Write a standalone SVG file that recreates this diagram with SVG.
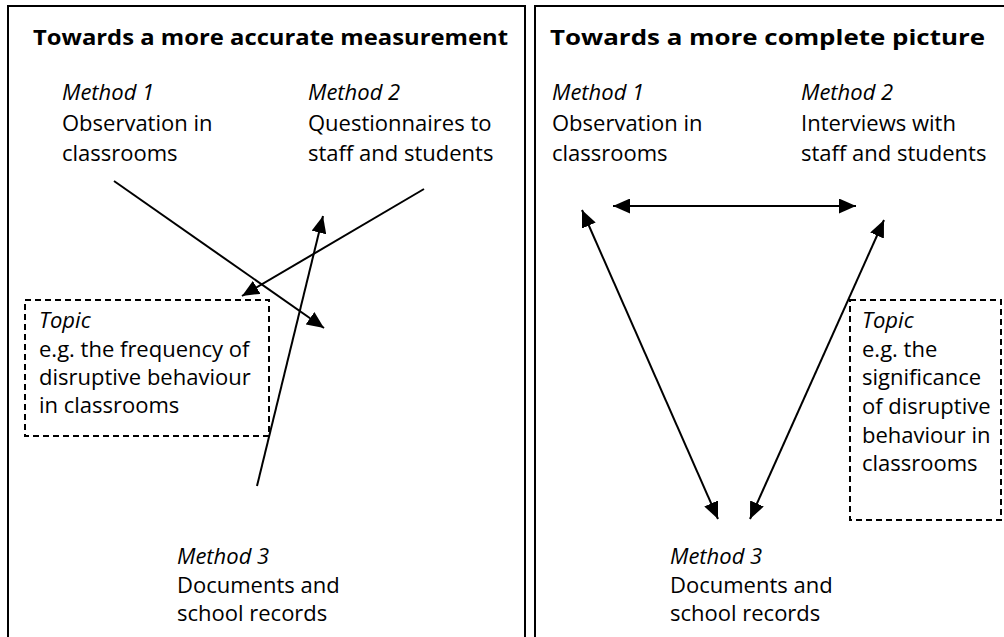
<svg xmlns="http://www.w3.org/2000/svg" width="1004" height="637" viewBox="0 0 1004 637">
<style>
.t{font-family:"Open Sans","Liberation Sans",sans-serif;font-size:22px;fill:#000}
.i{font-style:italic}
.b{font-weight:bold;font-size:21px}
.panel{fill:none;stroke:#000;stroke-width:2}
.topic{fill:none;stroke:#000;stroke-width:2;stroke-dasharray:6 4}
.c{stroke:#000;stroke-width:2;fill:none}
</style>
<defs>
<marker id="ah" markerUnits="userSpaceOnUse" markerWidth="18" markerHeight="15" refX="17" refY="7.5" orient="auto-start-reverse">
<path d="M0,0 L17,7.5 L0,15 Z" fill="#000"/>
</marker>
</defs>
<rect fill="#fff" width="1004" height="637"/>
<g id="panel-left">
<rect class="panel" x="8" y="6" width="517" height="650"/>
<text class="t b" x="33" y="45" textLength="475" lengthAdjust="spacingAndGlyphs">Towards a more accurate measurement</text>
</g>
<g id="panel-right">
<rect class="panel" x="535" y="6" width="480" height="650"/>
<text class="t b" x="550" y="45" textLength="435" lengthAdjust="spacingAndGlyphs">Towards a more complete picture</text>
</g>
<g id="L-method1">
<text class="t i" x="62" y="100">Method 1</text>
<text class="t" x="62" y="131">Observation in</text>
<text class="t" x="62" y="161">classrooms</text>
</g>
<g id="L-method2">
<text class="t i" x="308" y="100">Method 2</text>
<text class="t" x="308" y="131">Questionnaires to</text>
<text class="t" x="308" y="161">staff and students</text>
</g>
<g id="L-topic">
<rect class="topic" x="25" y="300" width="244" height="136"/>
<text class="t i" x="39" y="328">Topic</text>
<text class="t" x="39" y="357">e.g. the frequency of</text>
<text class="t" x="39" y="385">disruptive behaviour</text>
<text class="t" x="39" y="413">in classrooms</text>
</g>
<g id="L-method3">
<text class="t i" x="177" y="564">Method 3</text>
<text class="t" x="177" y="593">Documents and</text>
<text class="t" x="177" y="621">school records</text>
</g>
<g id="R-method1">
<text class="t i" x="552" y="100">Method 1</text>
<text class="t" x="552" y="131">Observation in</text>
<text class="t" x="552" y="161">classrooms</text>
</g>
<g id="R-method2">
<text class="t i" x="801" y="100">Method 2</text>
<text class="t" x="801" y="131">Interviews with</text>
<text class="t" x="801" y="161">staff and students</text>
</g>
<g id="R-topic">
<rect class="topic" x="850" y="300" width="151" height="220"/>
<text class="t i" x="862" y="328">Topic</text>
<text class="t" x="862" y="357">e.g. the</text>
<text class="t" x="862" y="385">significance</text>
<text class="t" x="862" y="414">of disruptive</text>
<text class="t" x="862" y="443">behaviour in</text>
<text class="t" x="862" y="471">classrooms</text>
</g>
<g id="R-method3">
<text class="t i" x="670" y="564">Method 3</text>
<text class="t" x="670" y="593">Documents and</text>
<text class="t" x="670" y="621">school records</text>
</g>
<g id="connectors">
<line class="c" x1="114" y1="181" x2="324" y2="328" marker-end="url(#ah)"/>
<line class="c" x1="424" y1="189" x2="242" y2="296" marker-end="url(#ah)"/>
<line class="c" x1="257" y1="486" x2="323" y2="216" marker-end="url(#ah)"/>
<line class="c" x1="613" y1="206" x2="856" y2="206" marker-start="url(#ah)" marker-end="url(#ah)"/>
<line class="c" x1="582" y1="210" x2="718" y2="519" marker-start="url(#ah)" marker-end="url(#ah)"/>
<line class="c" x1="884" y1="220" x2="750" y2="519" marker-start="url(#ah)" marker-end="url(#ah)"/>
</g>
</svg>
